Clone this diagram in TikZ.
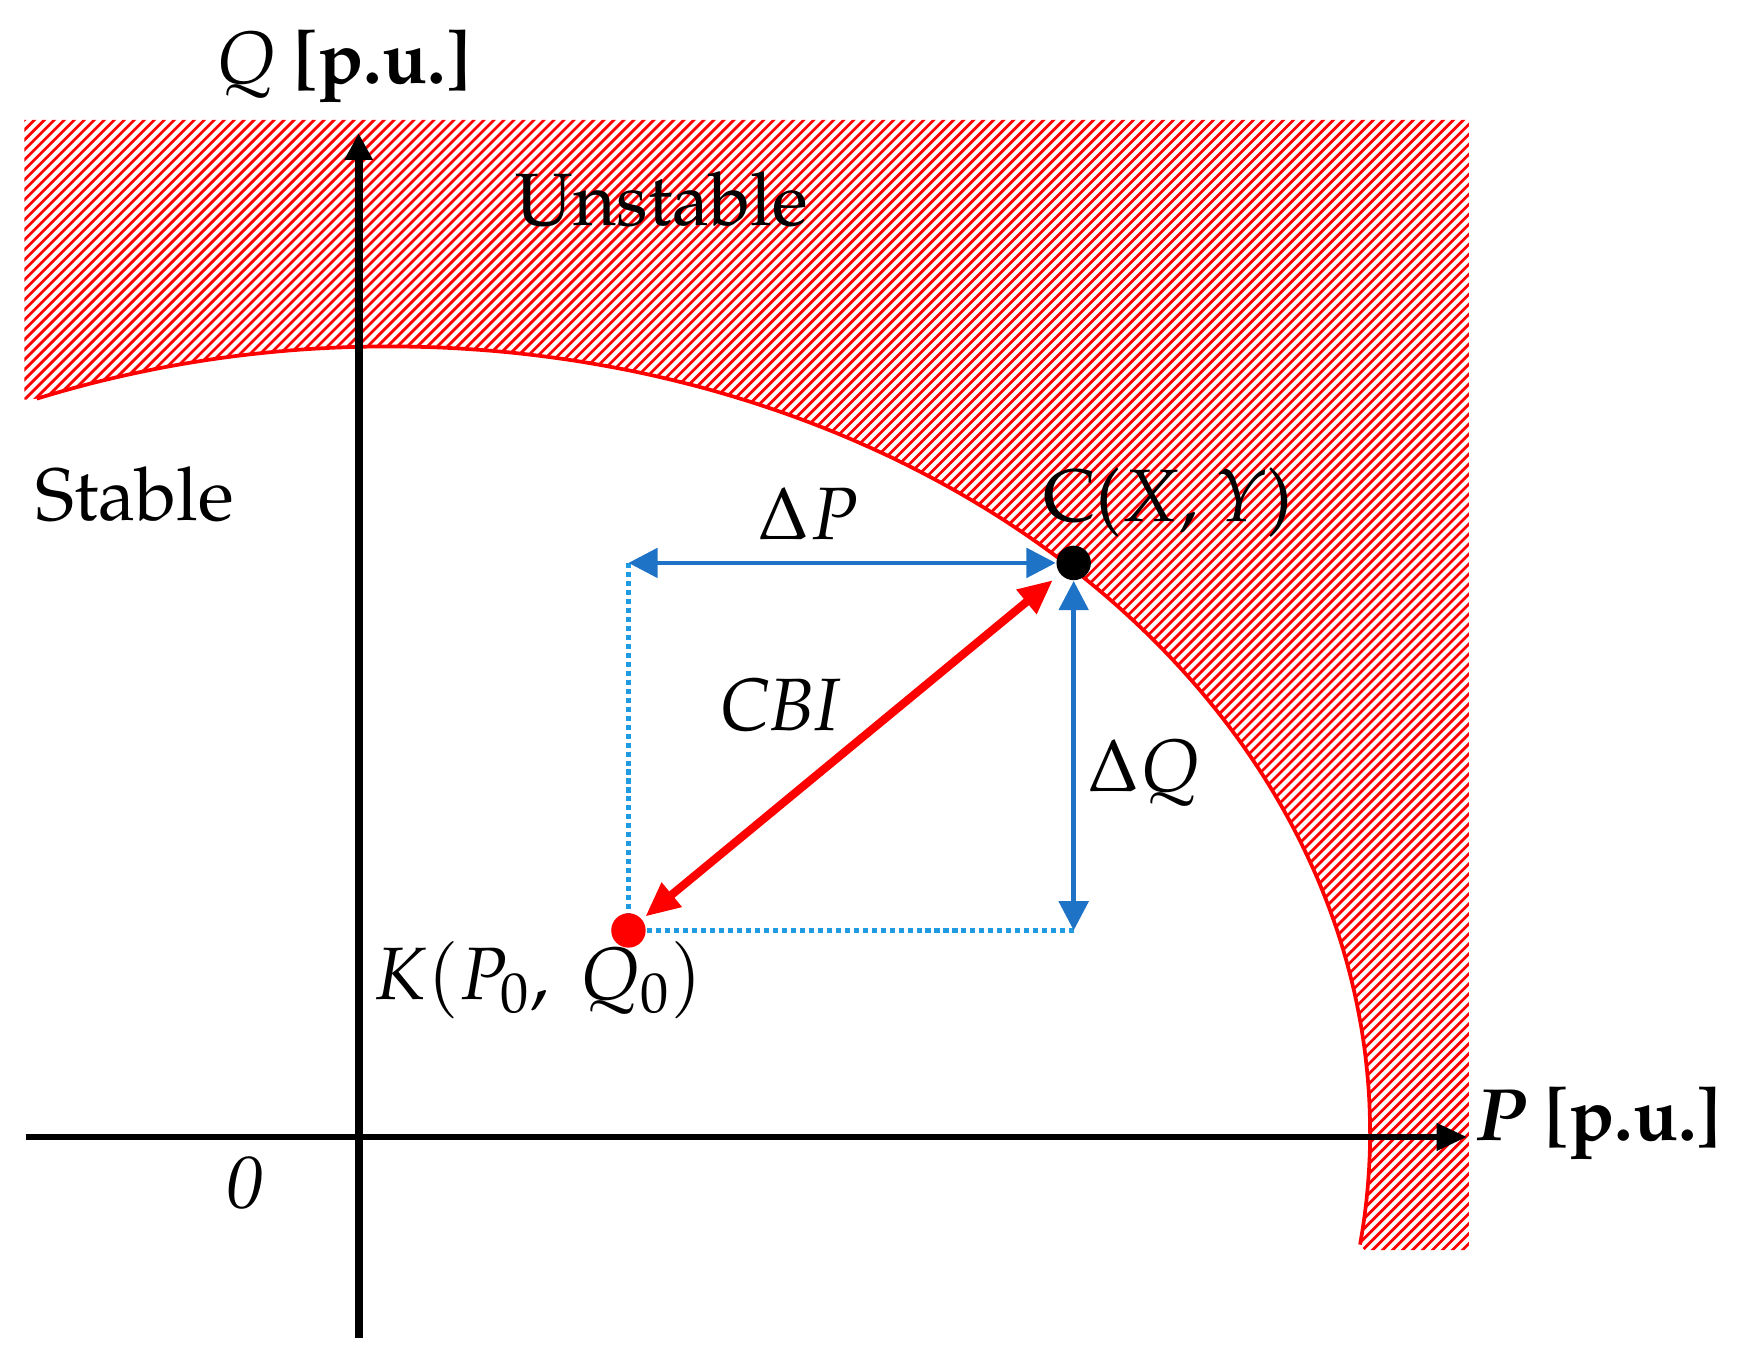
\documentclass[tikz,border=0pt]{standalone}
\usepackage[T1]{fontenc}
\usepackage{mathpazo}
\usetikzlibrary{arrows.meta,backgrounds}
\definecolor{arrblue}{RGB}{31,115,199}
\definecolor{dotblue}{RGB}{30,155,225}
\definecolor{hred}{RGB}{255,0,0}
\begin{document}
\begin{tikzpicture}[x=0.01cm, y=-0.01cm,
  lbl/.style={font=\fontsize{19}{22}\selectfont, inner sep=0pt, anchor=base},
  axisv/.style={line width=2.1pt, -{Triangle[length=6.8pt,width=6.8pt]}},
  axish/.style={line width=1.4pt, -{Triangle[length=7.7pt,width=6.8pt]}},
  bluearr/.style={arrblue, line width=1.2pt, {Triangle[length=7.5pt,width=7.5pt]}-{Triangle[length=7.5pt,width=7.5pt]}},
  redarr/.style={hred, line width=2.1pt, {Triangle[length=8.8pt,width=7.6pt]}-{Triangle[length=8.8pt,width=7.6pt]}},
  dotln/.style={dotblue, line width=1.1pt, dash pattern=on 1.3pt off 1pt},
  ptdot/.style={circle, inner sep=0pt, minimum size=0.31cm},
  hatchln/.style={hred, line width=0.7pt},
  boundary/.style={hred, line width=0.95pt}
]
\useasboundingbox (0,0) rectangle (1568,1231);

% points
\node[ptdot, fill=black] (C) at (967,507) {};
\node[ptdot, fill=hred] (K) at (566,838) {};
\coordinate (corner) at (566,507);
\coordinate (qend) at (C.south |- K);

% axes coordinates
\coordinate (qbot) at (323,1205);
\coordinate (qtop) at (323,120);
\coordinate (pleft) at (23,1024);
\coordinate (pright) at (1321,1024);

\begin{pgfonlayer}{background}
  % hatched unstable region
  \begin{scope}
    \clip (22,108) -- (1323,108) -- (1323,1126) -- (1229,1126)
      -- plot[domain=-8.2:111,samples=120] ({350+884*cos(\x)},{1020-708*sin(\x)})
      -- (22,360) -- cycle;
    \foreach \c in {130,139,...,2460}
      \draw[hatchln] (\c-1200,1200) -- (\c-100,100);
  \end{scope}
  % stability boundary
  \draw[boundary] plot[domain=111:-8.2,samples=150] ({350+884*cos(\x)},{1020-708*sin(\x)});
  % axes
  \draw[axish] (pleft) -- (pright);
  \draw[axisv] (qbot) -- (qtop);
  % dotted projections
  \draw[dotln] (corner) -- (K.center) -- (qend);
  % Delta arrows
  \draw[bluearr] (corner) -- (C.west);
  \draw[bluearr] (C.south) -- (qend);
  % CBI arrow
  \draw[redarr, shorten >=2.3pt, shorten <=1pt] (K) -- (C);
\end{pgfonlayer}

% labels
\node[lbl] (qlab) at (310,75) {\textit{Q} \textbf{[p.u.]}};
\node[lbl] (plab) at (1440,1027) {\textbf{\textit{P} [p.u.]}};
\node[lbl] (unst) at (596,203) {Unstable};
\node[lbl] (stab) at (121,469) {Stable};
\node[lbl] (dP) at (728,486) {$\Delta P$};
\node[lbl] (cxy) at (1052,470) {C($X$, $Y$)};
\node[lbl] (cbi) at (703,658) {\textit{CBI}};
\node[lbl] (dQ) at (1030,713) {$\Delta Q$};
\node[lbl] (klab) at (485,900) {$K(P_0,\ Q_0)$};
\node[lbl] (zero) at (221,1088) {\textit{0}};
\end{tikzpicture}
\end{document}
